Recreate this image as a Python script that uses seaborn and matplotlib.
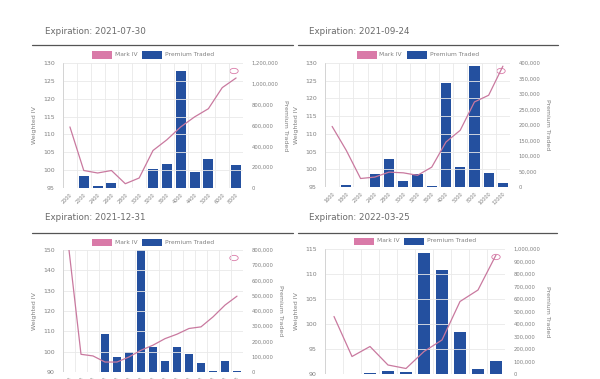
import numpy as np
import pandas as pd
import matplotlib
matplotlib.use("Agg")
import matplotlib.pyplot as plt
from matplotlib.ticker import FuncFormatter, FixedLocator
from matplotlib.patches import Rectangle, Circle
from matplotlib.lines import Line2D
import seaborn as sns

# ---- data ----
exp_1 = "2021-07-30"
strikes_1 = ["2000", "2200", "2400", "2600", "2800", "3000", "3200", "3600", "4000", "4400", "5000", "6000", "8000"]
iv_1 = [112.1, 99.9, 99.2, 99.9, 96.2, 97.8, 105.5, 108.5, 112.1, 114.9, 117.2, 123.1, 125.8]
prem_1 = [3000, 115000, 22000, 45000, 3000, 3000, 180000, 227000, 1123000, 150000, 275000, 0, 220000]

exp_2 = "2021-09-24"
strikes_2 = ["1600", "1800", "2200", "2400", "2800", "3000", "3200", "3600", "4000", "5000", "8000", "10000", "12000"]
iv_2 = [112.1, 105.3, 97.4, 97.8, 99.2, 99.0, 98.3, 100.6, 107.7, 111.0, 119.0, 120.9, 129.1]
prem_2 = [0, 5000, 0, 43000, 89000, 18000, 41000, 4000, 335000, 65000, 391000, 44000, 13000]

exp_3 = "2021-12-31"
strikes_3 = ["1000", "1500", "2000", "2200", "2400", "2600", "2800", "3000", "3200", "3600", "4000", "5000", "6000", "8000", "10000"]
iv_3 = [150.0, 98.7, 97.9, 94.9, 94.9, 97.4, 100.7, 103.2, 106.4, 108.6, 111.4, 112.2, 117.1, 122.9, 127.3]
prem_3 = [0, 2000, 0, 252000, 99000, 129000, 800000, 164000, 75000, 164000, 121000, 61000, 9000, 72000, 4000]

exp_4 = "2022-03-25"
strikes_4 = ["1600", "2000", "2400", "2800", "3200", "4000", "5000", "6000", "8000", "10000"]
iv_4 = [101.5, 93.5, 95.5, 91.8, 91.1, 94.5, 96.8, 104.5, 106.8, 113.8]
prem_4 = [0, 1000, 5000, 24000, 19000, 970000, 830000, 333000, 37000, 107000]

PINK = "#d97aa8"
PINK_LINE = "#c9799f"
BLUE = "#24509f"
GRID = "#e9e9e9"
TXT = "#808080"

W, H = 600, 379
fig = plt.figure(figsize=(6, 3.79), dpi=100)
sns.set_style("white")
plt.rcParams["font.family"] = ["DejaVu Sans"]


def px_axes(x0, y0, x1, y1):
    return fig.add_axes([x0 / W, 1 - y1 / H, (x1 - x0) / W, (y1 - y0) / H])


def panel(box, title_xy, rule, expiry, strikes, iv, prem, iv_lim, iv_step, pr_max, pr_step):
    x0, y0, x1, y1 = box
    ax = px_axes(x0, y0, x1, y1)
    axb = ax.twinx()
    df = pd.DataFrame({"strike": strikes, "iv": iv, "prem": prem})
    n = len(df)

    sns.barplot(data=df, x="strike", y="prem", ax=axb, color=BLUE,
                saturation=1, width=0.72, linewidth=0)
    sns.lineplot(x=np.arange(n), y=df["iv"], ax=ax, color=PINK_LINE, lw=0.9)

    ax.set_zorder(axb.get_zorder() + 1)
    ax.patch.set_visible(False)
    ax.set_xlim(-0.5, n - 0.5)
    ax.set_ylim(*iv_lim)
    axb.set_ylim(0, pr_max)
    ax.set_yticks(np.arange(iv_lim[0], iv_lim[1] + 0.1, iv_step))
    axb.set_yticks(np.arange(0, pr_max + 1, pr_step))
    axb.yaxis.set_major_formatter(FuncFormatter(lambda v, p: f"{int(v):,}"))

    ax.set_xticks(np.arange(n))
    ax.set_xticklabels(strikes, rotation=45, ha="right", rotation_mode="anchor",
                       fontsize=3.5, color=TXT)
    ax.xaxis.set_minor_locator(FixedLocator(np.arange(n + 1) - 0.5))
    ax.grid(True, axis="y", color=GRID, lw=0.6)
    ax.grid(True, axis="x", which="minor", color=GRID, lw=0.6)
    axb.grid(False)
    axb.tick_params(axis="x", labelbottom=False, length=0)
    ax.tick_params(axis="x", which="both", length=0, pad=3)
    ax.tick_params(axis="y", labelsize=4.5, labelcolor=TXT, length=0, pad=6)
    axb.tick_params(axis="y", labelsize=3.8, labelcolor=TXT, length=0, pad=6)
    ax.set_xlabel("")
    axb.set_xlabel("")
    ax.set_ylabel("Weighted IV", fontsize=4.5, color=TXT, labelpad=4)
    axb.set_ylabel("Premium Traded", fontsize=4.5, color=TXT, rotation=270, labelpad=7)
    for a in (ax, axb):
        for s in a.spines.values():
            s.set_visible(False)
    ax.axvline(-0.5, color="#d0d0d0", lw=0.6)

    # title and rule
    tx, ty = title_xy
    fig.text(tx / W, 1 - ty / H, f"Expiration: {expiry}", fontsize=6.3,
             color="#6a6a6a", va="center", ha="left")
    rx0, rx1, ry = rule
    fig.add_artist(Line2D([rx0 / W, rx1 / W], [1 - ry / H, 1 - ry / H],
                          color="#555555", lw=0.9))

    # legend above plot
    cx = (x0 + x1) / 2
    ly = y0 - 8
    items = [(PINK, "Mark IV", 21), (BLUE, "Premium Traded", 49)]
    total = 20 + 3 + 21 + 6 + 20 + 3 + 49
    lx = cx - total / 2
    for color, label, tw in items:
        fig.add_artist(Rectangle((lx / W, 1 - (ly + 3.5) / H), 20 / W, 7 / H,
                                 color=color, lw=0))
        fig.text((lx + 23) / W, 1 - ly / H, label, fontsize=4.3, color=TXT,
                 va="center", ha="left")
        lx += 20 + 3 + tw + 6

    # small round icon at top right of the plot
    fig.add_artist(Circle(((x1 - 9) / W, 1 - (y0 + 8) / H), 4.2 / W,
                          transform=fig.transFigure, fill=False,
                          ec=PINK, lw=0.6))
    return ax


panel((63, 63, 243, 188), (45, 32), (32, 293, 45), exp_1, strikes_1, iv_1, prem_1,
      (95, 130), 5, 1_200_000, 200_000)
panel((325, 63, 510, 187), (309, 32), (298, 558, 45), exp_2, strikes_2, iv_2, prem_2,
      (95, 130), 5, 400_000, 50_000)
panel((63, 250, 243, 372), (45, 218), (32, 293, 233), exp_3, strikes_3, iv_3, prem_3,
      (90, 150), 10, 800_000, 100_000)
panel((325, 249, 505, 374), (309, 218), (298, 557, 233), exp_4, strikes_4, iv_4, prem_4,
      (90, 115), 5, 1_000_000, 100_000)

fig.savefig("out.png", dpi=100, facecolor="white")
